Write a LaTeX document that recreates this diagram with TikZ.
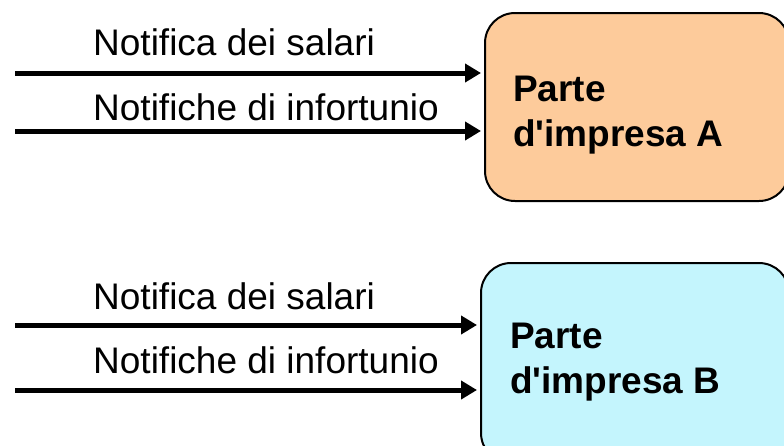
\documentclass[tikz,border=0pt]{standalone}
\usepackage{fontspec}
\newfontfamily\arialfont{Liberation Sans}
\usetikzlibrary{arrows.meta}
\definecolor{peach}{HTML}{FDCB9B}
\definecolor{cyanlt}{HTML}{C4F5FD}
\tikzset{
  unitbox/.style={draw=black, line width=2pt, rounded corners=30pt, inner sep=0pt},
  flow/.style={line width=5pt, -{Triangle[length=16pt,width=18pt]}, shorten >=3pt},
  lbl/.style={anchor=base west, inner sep=0pt, font=\arialfont\fontsize{37}{45}\selectfont},
  unittext/.style={anchor=base west, inner sep=0pt, align=left, font=\arialfont\fontsize{37}{45}\selectfont\bfseries}
}
\begin{document}
\begin{tikzpicture}[x=1pt,y=-1pt]
\useasboundingbox (0,0) rectangle (784,445);
% boxes
\node[unitbox, fill=peach, minimum width=304pt, minimum height=188pt, anchor=north west] (boxA) at (484,12) {};
\node[unitbox, fill=cyanlt, minimum width=308pt, minimum height=200pt, anchor=north west] (boxB) at (480,262) {};
% box texts
\node[unittext] (tA1) at (513,101) {Parte};
\node[unittext] (tA2) at (513,146) {d'impresa A};
\node[unittext] (tB1) at (510,348) {Parte};
\node[unittext] (tB2) at (510,393) {d'impresa B};
% arrow starts
\coordinate (sA1) at (15,73);
\coordinate (sA2) at (15,131);
\coordinate (sB1) at (15,325);
\coordinate (sB2) at (15,390);
\draw[flow] (sA1) -- (sA1 -| boxA.west);
\draw[flow] (sA2) -- (sA2 -| boxA.west);
\draw[flow] (sB1) -- (sB1 -| boxB.west);
\draw[flow] (sB2) -- (sB2 -| boxB.west);
% labels
\node[lbl] (lA1) at (93,55) {Notifica dei salari};
\node[lbl] (lA2) at (93,120) {Notifiche di infortunio};
\node[lbl] (lB1) at (93,309) {Notifica dei salari};
\node[lbl] (lB2) at (93,373) {Notifiche di infortunio};
\end{tikzpicture}
\end{document}
